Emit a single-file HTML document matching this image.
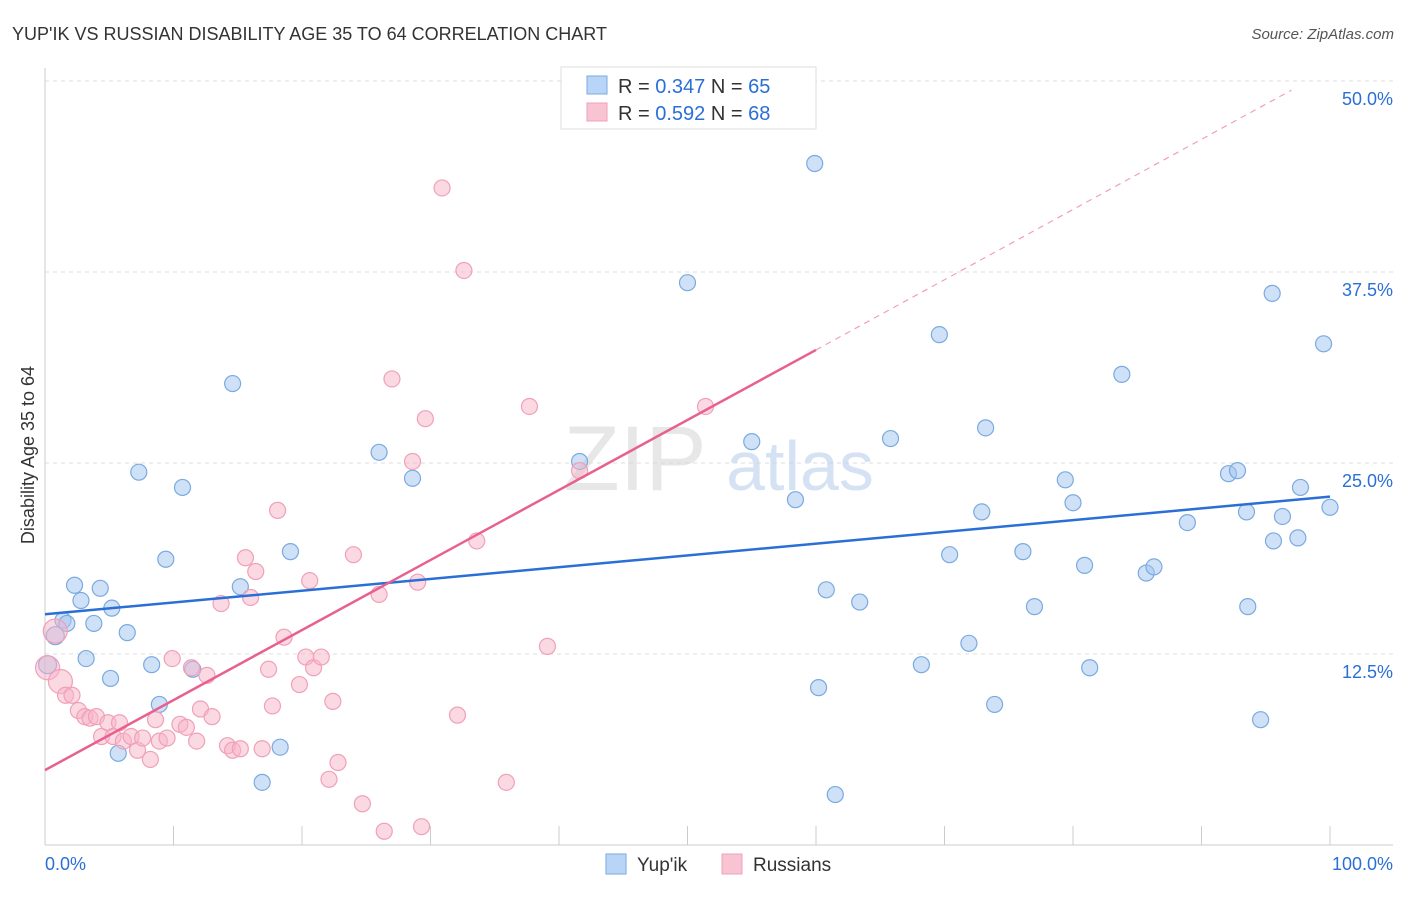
<!DOCTYPE html>
<html><head><meta charset="utf-8"><style>
body{margin:0;background:#fff;font-family:"Liberation Sans",sans-serif;}
svg text{font-family:"Liberation Sans",sans-serif;}
</style></head><body>
<svg id="chart" width="1406" height="892" xmlns="http://www.w3.org/2000/svg">
<text x="12" y="40" font-size="18" fill="#333">YUP'IK VS RUSSIAN DISABILITY AGE 35 TO 64 CORRELATION CHART</text>
<text x="1394" y="39" font-size="15" fill="#555" text-anchor="end" font-style="italic">Source: ZipAtlas.com</text>
<text x="34" y="455" font-size="18" fill="#333" text-anchor="middle" transform="rotate(-90 34 455)">Disability Age 35 to 64</text>
<g id="grid"></g>
<text x="635" y="490" font-size="92" fill="#d8d8d8" font-family="Liberation Serif" text-anchor="middle" opacity="0.6">ZIP</text>
<text x="800" y="490" font-size="70" fill="#b8d0ee" text-anchor="middle" opacity="0.6">atlas</text>
<g id="points"></g>
<g id="lines"></g>
<g>
<rect x="561" y="67" width="255" height="62" fill="#fff" stroke="#ddd"/>
<rect x="587" y="76" width="20" height="18" fill="#b8d4f6" stroke="#7aaae0"/>
<text x="618" y="93" font-size="20" fill="#333">R = <tspan fill="#2a6fd6">0.347</tspan>   N = <tspan fill="#2a6fd6">65</tspan></text>
<rect x="587" y="103" width="20" height="18" fill="#f8c4d4" stroke="#f0a0b8"/>
<text x="618" y="120" font-size="20" fill="#333">R = <tspan fill="#2a6fd6">0.592</tspan>   N = <tspan fill="#2a6fd6">68</tspan></text>
</g>
<g>
<rect x="606" y="854" width="20" height="20" fill="#b8d4f6" stroke="#7aaae0"/>
<text x="637" y="871" font-size="19" fill="#333">Yup'ik</text>
<rect x="722" y="854" width="20" height="20" fill="#f8c4d4" stroke="#f0a0b8"/>
<text x="753" y="871" font-size="19" fill="#333">Russians</text>
</g>
<text x="45" y="870" font-size="18" fill="#2a6fd6">0.0%</text>
<text x="1393" y="870" font-size="18" fill="#2a6fd6" text-anchor="end">100.0%</text>
</svg>
<script>
const yTicks=[12.5,25,37.5,50];
const yTickLabels=["12.5%","25.0%","37.5%","50.0%"];
const blueX=[0.2,0.8,1.4,1.7,2.3,2.8,3.2,3.8,4.3,5.1,5.2,5.7,6.4,7.3,8.3,8.9,9.4,10.7,11.5,14.6,15.2,16.9,18.3,19.1,26.0,28.6,41.6,50.0,55.0,58.4,59.9,60.2,60.8,61.5,63.4,65.8,68.2,69.6,70.4,71.9,72.9,73.2,73.9,76.1,77.0,79.4,80.0,80.9,81.3,83.8,85.7,86.3,88.9,92.1,92.8,93.5,93.6,94.6,95.5,95.6,96.3,97.5,97.7,99.5,100];
const blueY=[11.8,13.7,14.7,14.5,17.0,16.0,12.2,14.5,16.8,10.9,15.5,6.0,13.9,24.4,11.8,9.2,18.7,23.4,11.5,30.2,16.9,4.1,6.4,19.2,25.7,24.0,25.1,36.8,26.4,22.6,44.6,10.3,16.7,3.3,15.9,26.6,11.8,33.4,19.0,13.2,21.8,27.3,9.2,19.2,15.6,23.9,22.4,18.3,11.6,30.8,17.8,18.2,21.1,24.3,24.5,21.8,15.6,8.2,36.1,19.9,21.5,20.1,23.4,32.8,22.1];
const pinkX=[0.2,0.8,1.2,1.6,2.1,2.6,3.1,3.5,4.0,4.4,4.9,5.3,5.8,6.1,6.7,7.2,7.6,8.2,8.6,8.9,9.5,9.9,10.5,11.0,11.4,11.8,12.1,12.6,13.0,13.7,14.2,14.6,15.2,15.6,16.0,16.4,16.9,17.4,17.7,18.1,18.6,19.8,20.3,20.6,20.9,21.5,22.1,22.4,22.8,24.0,24.7,26.0,26.4,27.0,28.6,29.0,29.3,29.6,30.9,32.1,32.6,33.6,35.9,37.7,39.1,41.6,51.4];
const pinkY=[11.6,14.0,10.7,9.8,9.8,8.8,8.4,8.3,8.4,7.1,8.0,7.1,8.0,6.8,7.1,6.2,7.0,5.6,8.2,6.8,7.0,12.2,7.9,7.7,11.6,6.8,8.9,11.1,8.4,15.8,6.5,6.2,6.3,18.8,16.2,17.9,6.3,11.5,9.1,21.9,13.6,10.5,12.3,17.3,11.6,12.3,4.3,9.4,5.4,19.0,2.7,16.4,0.9,30.5,25.1,17.2,1.2,27.9,43.0,8.5,37.6,19.9,4.1,28.7,13.0,24.5,28.7];
const blueTrend=[15.1,22.8];
const pinkTrend=[4.9,32.4,49.4];
const pinkTrendX=[0,60,97];
const NS="http://www.w3.org/2000/svg";
const xs=v=>45+v*12.85;
const ys=v=>845-v*15.28;
function mk(tag,attrs,parent){const e=document.createElementNS(NS,tag);for(const k in attrs)e.setAttribute(k,attrs[k]);parent.appendChild(e);return e;}
const grid=document.getElementById('grid');
yTicks.forEach((t,i)=>{
 const l=mk('line',{x1:45,x2:1393,y1:ys(t),y2:ys(t),stroke:'#ddd','stroke-dasharray':'4,4'},grid);
 
 
 const tx=mk('text',{x:1393,y:ys(t)+24,'font-size':18,fill:'#2a6fd6','text-anchor':'end'},grid);
 tx.textContent=yTickLabels[i];
 
 
});
const ax=mk('line',{x1:45,x2:1393,y1:845,y2:845,stroke:'#ccc'},grid);


const ay=mk('line',{x1:45,x2:45,y1:68,y2:845,stroke:'#ccc'},grid);


for(let i=0;i<=10;i++){
 const tk=mk('line',{x1:xs(i*10),x2:xs(i*10),y1:826,y2:845,stroke:'#ccc'},grid);
 
 
}
const pts=document.getElementById('points');
blueX.forEach((x,i)=>{
 const c=mk('circle',{cx:xs(x),cy:ys(blueY[i]),r:i<2?9:8,fill:'rgba(160,196,240,0.5)',stroke:'#7aaae0','stroke-width':1.2},pts);
 
 
});
pinkX.forEach((x,i)=>{
 const c=mk('circle',{cx:xs(x),cy:ys(pinkY[i]),r:i<3?12:8,fill:'rgba(248,180,200,0.5)',stroke:'#f0a0b8','stroke-width':1.2},pts);
 
 
});
const lines=document.getElementById('lines');
const bl=mk('line',{x1:xs(0),y1:ys(blueTrend[0]),x2:xs(100),y2:ys(blueTrend[1]),stroke:'#2a6fd6','stroke-width':2.5},lines);


const pl=mk('line',{x1:xs(pinkTrendX[0]),y1:ys(pinkTrend[0]),x2:xs(pinkTrendX[1]),y2:ys(pinkTrend[1]),stroke:'#e8608f','stroke-width':2.5},lines);


const pd=mk('line',{x1:xs(pinkTrendX[1]),y1:ys(pinkTrend[1]),x2:xs(pinkTrendX[2]),y2:ys(pinkTrend[2]),stroke:'#f0a0b8','stroke-width':1.2,'stroke-dasharray':'6,5'},lines);


</script>
</body></html>
